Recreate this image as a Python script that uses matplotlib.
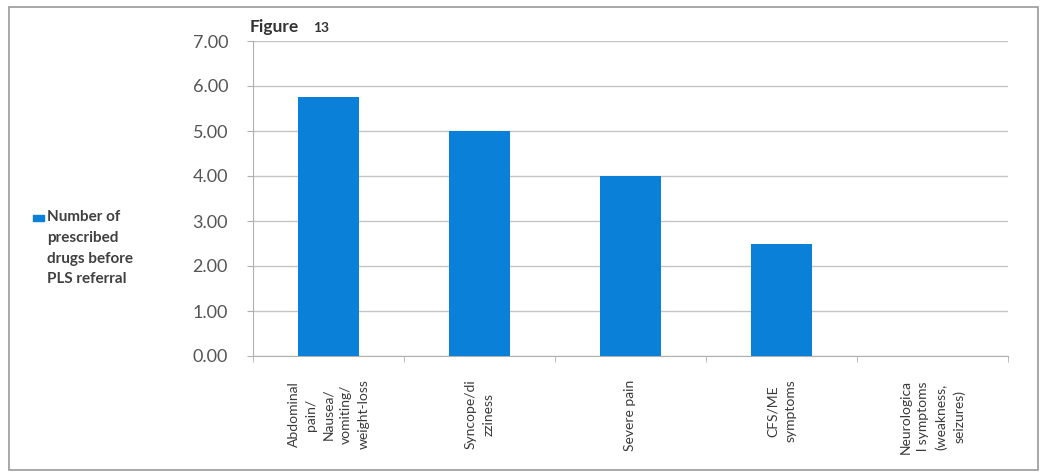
import matplotlib
matplotlib.use("Agg")
import matplotlib.pyplot as plt
from matplotlib.patches import Rectangle
import numpy as np

categories = [
    "Abdominal\npain/\nNausea/\nvomiting/\nweight-loss",
    "Syncope/di\nzziness",
    "Severe pain",
    "CFS/ME\nsymptoms",
    "Neurologica\nl symptoms\n(weakness,\nseizures)",
]
values = [5.75, 5.0, 4.0, 2.5, 0.0]
y_ticks = [0, 1, 2, 3, 4, 5, 6, 7]
series_name = "Number of\nprescribed\ndrugs before\nPLS referral"

plt.rcParams['font.family'] = ['Lato', 'DejaVu Sans']

W, H = 1041, 475
fig = plt.figure(figsize=(W / 100, H / 100), dpi=100)
fig.patch.set_facecolor('white')

# outer frame
fig.patches.append(Rectangle((9 / W, 1 - 470 / H), (1038 - 9) / W, (470 - 7) / H,
                             transform=fig.transFigure, fill=False,
                             edgecolor='#9a9a9a', linewidth=1.2))

ax = fig.add_axes([253 / W, 1 - 356 / H, (1008 - 253) / W, (356 - 41) / H])
x = np.arange(len(categories))
bar_color = '#0A80D8'
ax.bar(x, values, width=0.4, color=bar_color, zorder=3)

ax.set_xlim(-0.5, len(categories) - 0.5)
ax.set_ylim(0, 7)
ax.set_yticks(y_ticks)
ax.set_yticklabels([f"{v:.2f}" for v in y_ticks], fontsize=13, color='#555555')
ax.yaxis.grid(True, color='#c4c4c4', linewidth=1.0, zorder=0)
ax.set_axisbelow(True)

for s in ['top', 'right']:
    ax.spines[s].set_visible(False)
ax.spines['left'].set_color('#b0b0b0')
ax.spines['bottom'].set_color('#b0b0b0')

ax.tick_params(axis='y', length=4, color='#b0b0b0', pad=14)

# category labels at centers, ticks at boundaries
ax.set_xticks(x)
ax.set_xticklabels(categories, rotation=90, fontsize=10, color='#3a3a3a',
                   ha='center', va='top', multialignment='center', linespacing=1.55)
ax.tick_params(axis='x', length=0, pad=17)
ax.set_xticks(np.arange(len(categories) + 1) - 0.5, minor=True)
ax.tick_params(axis='x', which='minor', length=4, color='#b0b0b0')

# title
fig.text(250 / W, 1 - 32 / H, "Figure", fontsize=12.5, fontweight='bold',
         color='#333333', ha='left', va='baseline')
fig.text(313 / W, 1 - 32 / H, "13", fontsize=10, fontweight='bold',
         color='#333333', ha='left', va='baseline')

# legend
fig.patches.append(Rectangle((33 / W, 1 - 221 / H), 11 / W, 6 / H,
                             transform=fig.transFigure, color=bar_color))
fig.text(47 / W, 1 - 210 / H, series_name, fontsize=11, fontweight='bold',
         color='#404040', ha='left', va='top', linespacing=1.62)

fig.savefig("out.png", dpi=100)
